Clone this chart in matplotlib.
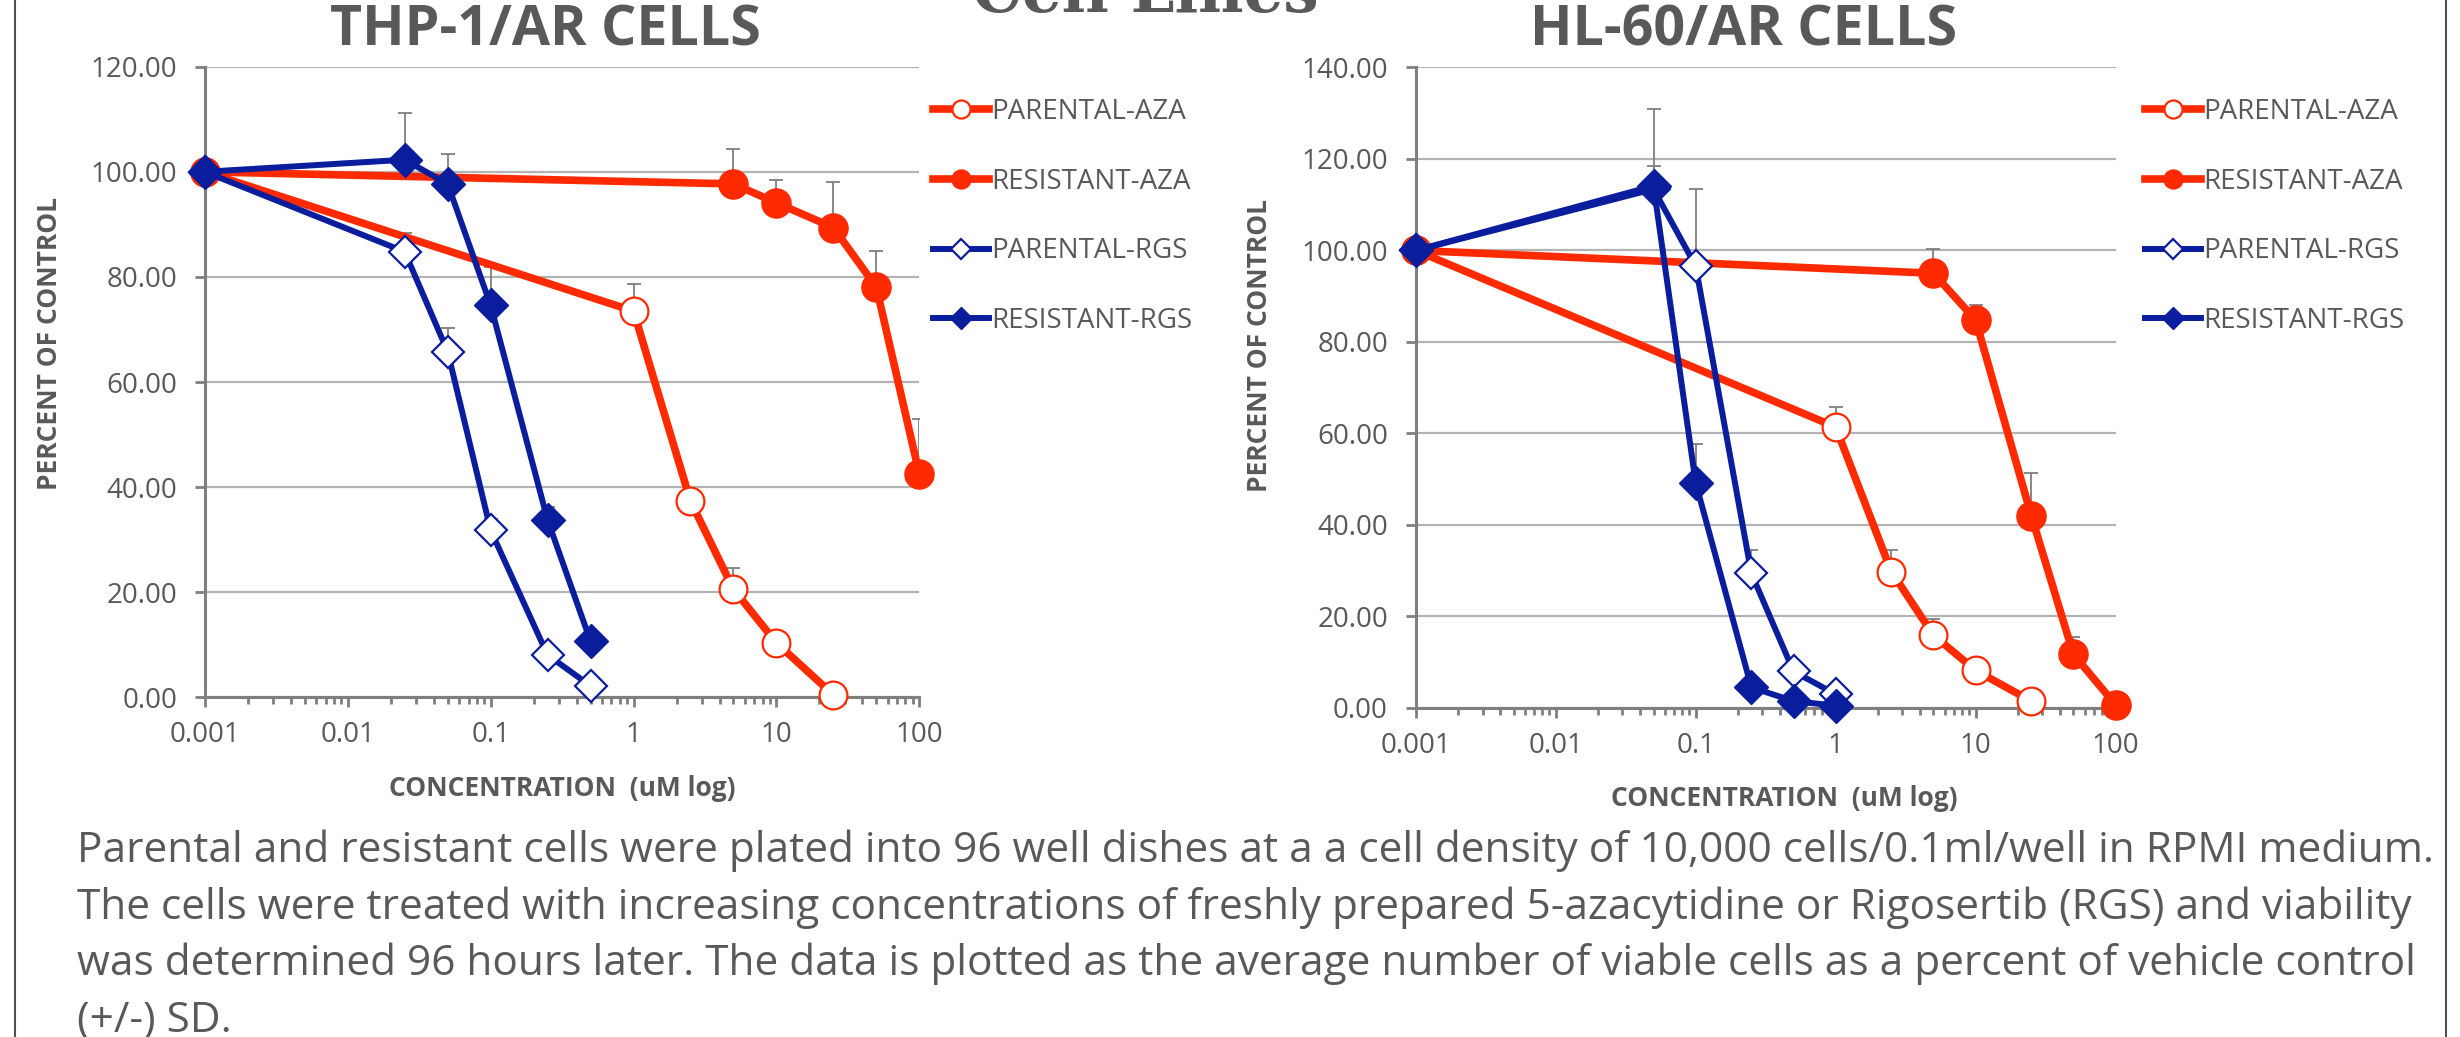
"""
plot.py
-------
Curvas de viabilidad de líneas celulares parentales y resistentes.
"""
import matplotlib
matplotlib.use('Agg')
import matplotlib.pyplot as plt
from matplotlib.lines import Line2D
from matplotlib.ticker import FixedLocator, FixedFormatter, LogLocator, NullFormatter
import numpy as np

# --- datos THP-1/AR ---
thp_x_par_aza = [0.001, 1, 2.5, 5, 10, 25]
thp_par_aza = [100, 73.5, 37.4, 20.6, 10.4, 0.5]
thp_par_aza_sd = [0, 5.1, 0, 4.0, 1.3, 0.8]
thp_x_res_aza = [0.001, 5, 10, 25, 50, 100]
thp_res_aza = [100, 97.7, 94.1, 89.4, 78.1, 42.5]
thp_res_aza_sd = [0, 6.6, 4.4, 8.7, 6.9, 10.4]
thp_x_rgs = [0.001, 0.025, 0.05, 0.1, 0.25, 0.5]
thp_par_rgs = [100, 84.8, 65.8, 31.8, 8.1, 2.2]
thp_par_rgs_sd = [0, 3.5, 4.5, 2.2, 0.7, 0]
thp_res_rgs = [100, 102.3, 97.7, 74.6, 33.8, 10.7]
thp_res_rgs_sd = [0, 8.8, 5.7, 7.2, 2.5, 0]

# --- datos HL-60/AR ---
hl_x_par_aza = [0.001, 1, 2.5, 5, 10, 25]
hl_par_aza = [100, 61.4, 29.8, 15.9, 8.2, 1.5]
hl_par_aza_sd = [0, 4.3, 4.8, 3.5, 1.3, 1.5]
hl_x_res_aza = [0.001, 5, 10, 25, 50, 100]
hl_res_aza = [100, 95.0, 84.8, 42.0, 11.7, 0.7]
hl_res_aza_sd = [0, 5.4, 3.2, 9.3, 3.9, 0]
hl_x_rgs = [0.001, 0.05, 0.1, 0.25, 0.5, 1]
hl_par_rgs = [100, 113.4, 96.6, 29.4, 8.0, 3.0]
hl_par_rgs_sd = [0, 5.1, 16.8, 5.2, 1.0, 0.7]
hl_res_rgs = [100, 114.1, 49.2, 4.5, 1.5, 0.5]
hl_res_rgs_sd = [0, 16.8, 8.5, 0, 0, 0]

series_labels = ['PARENTAL-AZA', 'RESISTANT-AZA', 'PARENTAL-RGS', 'RESISTANT-RGS']
x_ticks = [0.001, 0.01, 0.1, 1, 10, 100]
x_tick_labels = ['0.001', '0.01', '0.1', '1', '10', '100']
thp_y_ticks = [0, 20, 40, 60, 80, 100, 120]
hl_y_ticks = [0, 20, 40, 60, 80, 100, 120, 140]

caption_lines = [
    'Parental and resistant cells were plated into 96 well dishes at a a cell density of 10,000 cells/0.1ml/well in RPMI medium.',
    'The cells were treated with increasing concentrations of freshly prepared 5-azacytidine or Rigosertib (RGS) and viability',
    'was determined 96 hours later. The data is plotted as the average number of viable cells as a percent of vehicle control',
    '(+/-) SD.',
]

RED = '#ff2a00'
BLUE = '#0a1d9c'
GRIS = '#595959'
FUENTE = 'Open Sans'

plt.rcParams['font.family'] = [FUENTE, 'DejaVu Sans']

W, H = 2460, 1037
fig = plt.figure(figsize=(W / 100, H / 100), dpi=100)


def px(x, y):
    """Convierte píxeles (desde arriba-izquierda) a fracción de figura."""
    return x / W, 1 - y / H


def panel(rect, datos, yticks, ymax):
    ax = fig.add_axes(rect)
    estilos = [
        dict(color=RED, lw=5.5, marker='o', ms=20, mfc='white', mec=RED, mew=1.6),
        dict(color=RED, lw=5.5, marker='o', ms=21, mfc=RED, mec=RED),
        dict(color=BLUE, lw=4.3, marker='D', ms=16, mfc='white', mec=BLUE, mew=1.6),
        dict(color=BLUE, lw=4.3, marker='D', ms=17, mfc=BLUE, mec=BLUE),
    ]
    lineas = []
    for (x, y, sd), est, lab in zip(datos, estilos, series_labels):
        x = np.array(x)
        y = np.array(y)
        sd = np.array(sd)
        m = sd > 0
        ax.errorbar(x[m], y[m], yerr=[np.zeros(m.sum()), sd[m]], fmt='none',
                    ecolor='#7f7f7f', elinewidth=1.3, capsize=5, capthick=1.3, zorder=2)
        ln, = ax.plot(x, y, label=lab, zorder=3, clip_on=False, **est)
        lineas.append(ln)

    ax.set_xscale('log')
    ax.set_xlim(0.001, 100)
    ax.set_ylim(0, ymax)
    ax.xaxis.set_major_locator(FixedLocator(x_ticks))
    ax.xaxis.set_major_formatter(FixedFormatter(x_tick_labels))
    ax.xaxis.set_minor_locator(LogLocator(base=10, subs=np.arange(2, 10)))
    ax.xaxis.set_minor_formatter(NullFormatter())
    ax.set_yticks(yticks)
    ax.set_yticklabels([f'{v:.2f}' for v in yticks])

    ax.grid(axis='y', color='#b3b3b3', lw=1.6)
    ax.set_axisbelow(True)
    for s in ['top', 'right']:
        ax.spines[s].set_visible(False)
    for s in ['left', 'bottom']:
        ax.spines[s].set_color('#7f7f7f')
        ax.spines[s].set_linewidth(2.2)
    ax.tick_params(axis='both', which='major', direction='out', length=7, width=2,
                   color='#7f7f7f', labelcolor=GRIS, labelsize=20)
    ax.tick_params(axis='y', pad=13)
    ax.tick_params(axis='x', pad=10)
    ax.tick_params(axis='x', which='minor', direction='out', length=5, width=2, color='#7f7f7f')
    return ax, lineas


ax1, lineas1 = panel([0.0833, 0.3274, 0.2904, 0.6083],
                     [(thp_x_par_aza, thp_par_aza, thp_par_aza_sd),
                      (thp_x_res_aza, thp_res_aza, thp_res_aza_sd),
                      (thp_x_rgs, thp_par_rgs, thp_par_rgs_sd),
                      (thp_x_rgs, thp_res_rgs, thp_res_rgs_sd)],
                     thp_y_ticks, 120)
ax2, lineas2 = panel([0.5755, 0.3173, 0.2845, 0.6177],
                     [(hl_x_par_aza, hl_par_aza, hl_par_aza_sd),
                      (hl_x_res_aza, hl_res_aza, hl_res_aza_sd),
                      (hl_x_rgs, hl_par_rgs, hl_par_rgs_sd),
                      (hl_x_rgs, hl_res_rgs, hl_res_rgs_sd)],
                     hl_y_ticks, 140)

# leyendas
for lineas, x0 in [(lineas1, 933), (lineas2, 2145)]:
    fig.legend(handles=lineas, loc='upper left', bbox_to_anchor=px(x0, 98),
               frameon=False, fontsize=20, labelcolor=GRIS, markerscale=0.65,
               handlelength=2.0, handletextpad=0.1, labelspacing=1.5,
               borderpad=0, borderaxespad=0)

# títulos y etiquetas
fig.text(*px(545, 45), 'THP-1/AR CELLS', ha='center', va='baseline',
         fontsize=40, fontweight='bold', color=GRIS)
fig.text(*px(1744, 45), 'HL-60/AR CELLS', ha='center', va='baseline',
         fontsize=40, fontweight='bold', color=GRIS)
fig.text(*px(1145, 12), 'Cell Lines', ha='center', va='baseline',
         fontsize=45, fontweight='bold', color=GRIS, family='DejaVu Serif')

fig.text(*px(50, 343), 'PERCENT OF CONTROL', rotation=90, ha='center', va='center',
         fontsize=19, fontweight='bold', color=GRIS)
fig.text(*px(1259, 346), 'PERCENT OF CONTROL', rotation=90, ha='center', va='center',
         fontsize=19, fontweight='bold', color=GRIS)
fig.text(*px(562, 789), 'CONCENTRATION  (uM log)', ha='center', va='center',
         fontsize=19, fontweight='bold', color=GRIS)
fig.text(*px(1784, 798), 'CONCENTRATION  (uM log)', ha='center', va='center',
         fontsize=19, fontweight='bold', color=GRIS)

# texto al pie
for i, linea in enumerate(caption_lines):
    fig.text(*px(77, 862 + 56.7 * i), linea, ha='left', va='baseline',
             fontsize=30.5, color=GRIS)

# marco lateral
for xf in [15, 2446]:
    fig.add_artist(Line2D([xf / W, xf / W], [0, 1], color='#505050', lw=1.5))

fig.savefig('out.png', dpi=100)
